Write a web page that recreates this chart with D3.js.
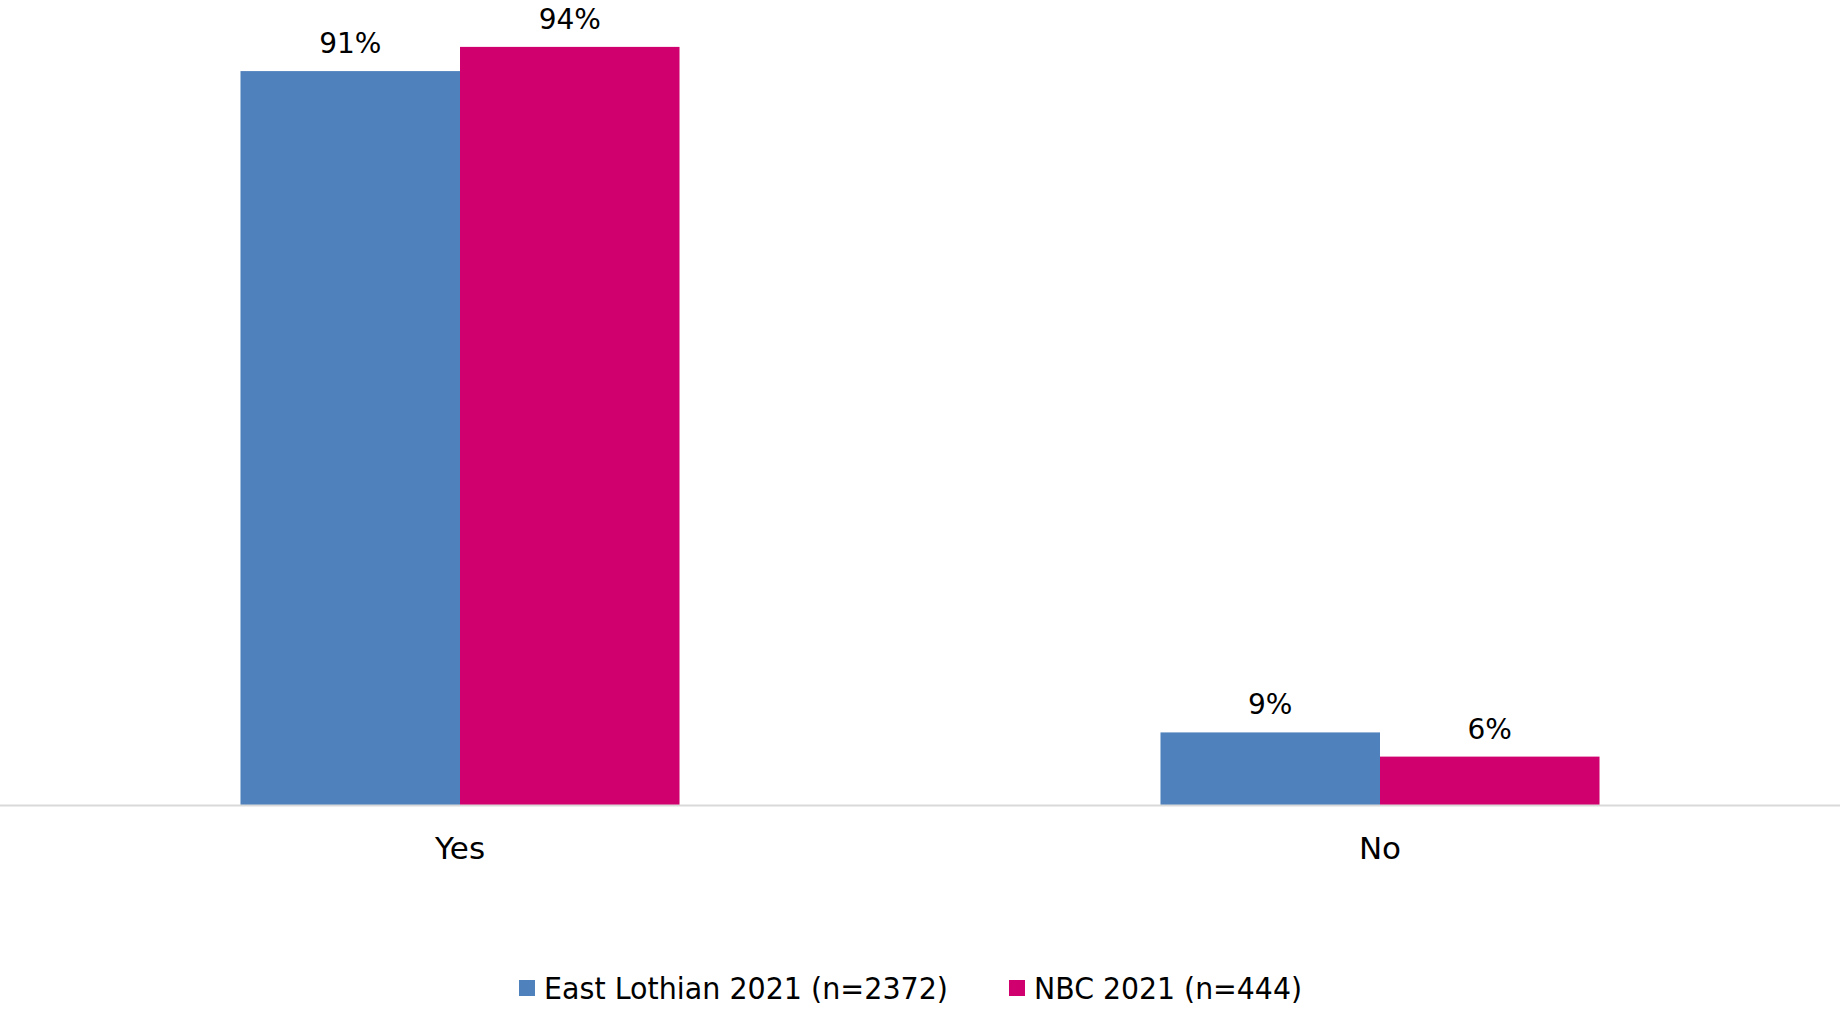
<!DOCTYPE html>
<html><head><meta charset="utf-8">
<script src="https://cdn.jsdelivr.net/npm/d3@7"></script>
<style>body{margin:0;background:#fff;} svg{display:block;}</style>
</head><body>
<svg id="c" width="1840" height="1009"></svg>
<script>
const categories = ["Yes", "No"];
const seriesNames = ["East Lothian 2021 (n=2372)", "NBC 2021 (n=444)"];
const eastLothian = [91, 9];
const nbc = [94, 6];
const colors = ["#4f81bd", "#d0006f"];

const W = 1840, H = 1009;
const svg = d3.select("#c");
const font = "'DejaVu Sans', sans-serif";
const baseY = 805;
const y = d3.scaleLinear().domain([0, 100]).range([baseY, baseY - 806.5]);
const x0 = d3.scaleBand().domain(categories).range([0, W]).paddingInner(0.5228).paddingOuter(0.2614);
const x1 = d3.scaleBand().domain([0, 1]).range([0, x0.bandwidth()]).padding(0);
const series = [eastLothian, nbc];

const g = svg.append("g");
categories.forEach((cat, ci) => {
  series.forEach((vals, si) => {
    const xx = x0(cat) + x1(si);
    g.append("rect").attr("x", xx).attr("y", y(vals[ci]))
      .attr("width", x1.bandwidth()).attr("height", y(0) - y(vals[ci]))
      .attr("fill", colors[si]);
    g.append("text").attr("x", xx + x1.bandwidth() / 2).attr("y", y(vals[ci]) - 18)
      .attr("text-anchor", "middle").attr("font-family", font).attr("font-size", 28)
      .attr("fill", "#000").text(vals[ci] + "%");
  });
});

// axis
const ax = svg.append("g").attr("transform", `translate(0,${baseY})`)
  .call(d3.axisBottom(x0).tickSize(0).tickPadding(32));
ax.select(".domain").attr("stroke", "#d9d9d9").attr("stroke-width", 2).attr("d", `M0,0.5H${W}`);
ax.selectAll("text").attr("font-family", font).attr("font-size", 31).attr("fill", "#000");

// legend
const leg = svg.append("g");
const legX = [519, 1009];
const legLen = [404, 268];
seriesNames.forEach((n, i) => {
  leg.append("rect").attr("x", legX[i]).attr("y", 980).attr("width", 16).attr("height", 16).attr("fill", colors[i]);
  leg.append("text").attr("x", legX[i] + 25).attr("y", 999).attr("font-family", font)
    .attr("font-size", 30).attr("fill", "#000")
    .attr("textLength", legLen[i]).attr("lengthAdjust", "spacingAndGlyphs").text(n);
});
</script>
</body></html>
